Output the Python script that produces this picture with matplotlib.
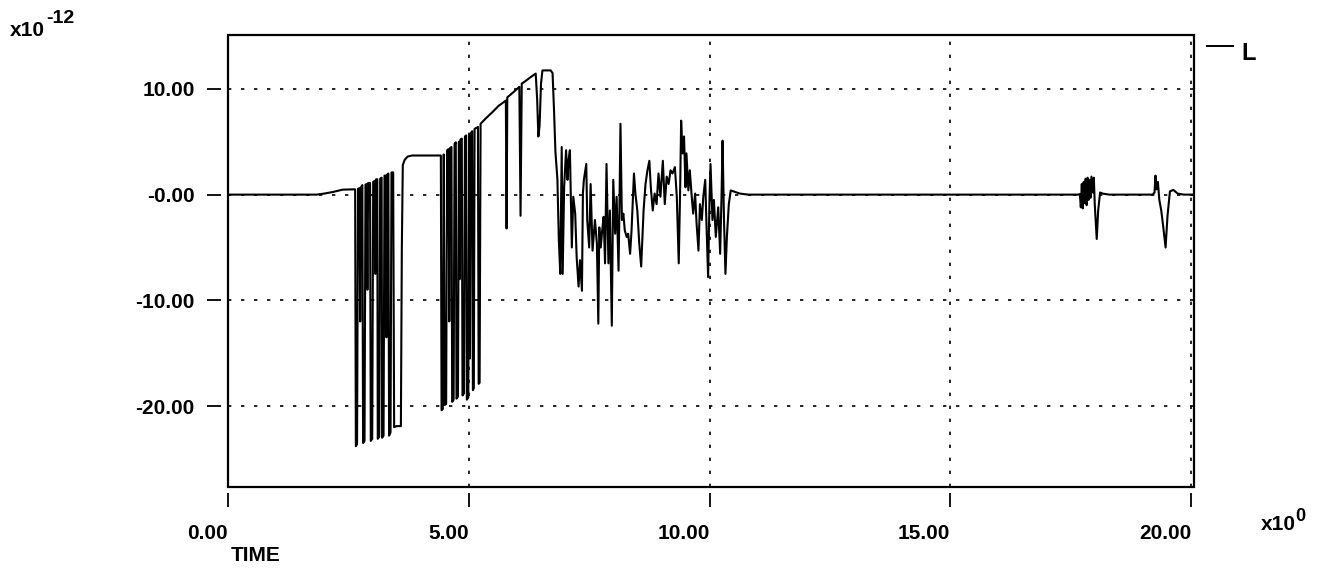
import numpy as np
import matplotlib
matplotlib.use("Agg")
import matplotlib.pyplot as plt
from matplotlib.patches import Rectangle
from matplotlib.lines import Line2D

plt.rcParams['font.family'] = ['Liberation Sans', 'DejaVu Sans']

t_start = [0.0, 1.84, 2.00, 2.18, 2.38, 2.64]
l_start = [0.0, 0.0, 0.1, 0.25, 0.47, 0.5]

# first burst of deep spikes (t ~ 2.6 .. 3.8)
t_burst1 = [2.655, 2.68, 2.70, 2.73,
            2.745, 2.76, 2.79,
            2.805, 2.835, 2.855, 2.88,
            2.895, 2.91, 2.95,
            2.965, 2.995, 3.015, 3.045,
            3.06, 3.075, 3.10,
            3.11, 3.14, 3.16, 3.19,
            3.20, 3.23, 3.25, 3.28,
            3.29, 3.305, 3.33,
            3.345, 3.375, 3.395, 3.43,
            3.45, 3.50, 3.59, 3.61, 3.63, 3.67, 3.73, 3.82, 4.42]
l_burst1 = [-23.8, -23.6, 0.55, 0.6,
            -12.0, 0.7, 0.9,
            -23.5, -23.3, 0.95, 1.0,
            -9.0, 1.1, 1.1,
            -23.3, -23.1, 1.2, 1.3,
            -7.5, 1.45, 1.45,
            -23.1, -22.9, 1.5, 1.6,
            -23.0, -22.8, 1.8, 1.8,
            -13.5, 1.9, 2.0,
            -22.8, -22.5, 2.1, 2.1,
            -22.0, -21.9, -21.9, -5.0, 2.8, 3.3, 3.6, 3.7, 3.7]

# second burst (t ~ 4.4 .. 5.25)
t_burst2 = [4.435, 4.46, 4.48,
            4.50, 4.53, 4.55, 4.58,
            4.595, 4.61, 4.64,
            4.655, 4.685, 4.705, 4.73,
            4.745, 4.775, 4.795,
            4.81, 4.825, 4.855,
            4.87, 4.90, 4.92, 4.945,
            4.96, 4.99, 5.01,
            5.025, 5.04, 5.07,
            5.085, 5.105, 5.12, 5.15, 5.19,
            5.205, 5.225, 5.245]
l_burst2 = [-20.4, -20.3, 3.8,
            -19.9, -19.8, 4.2, 4.3,
            -12.0, 4.4, 4.5,
            -19.6, -19.4, 4.8, 4.95,
            -19.3, -19.1, 5.0,
            -8.0, 5.2, 5.3,
            -19.0, -18.8, 5.5, 5.6,
            -19.4, -19.2, 5.7,
            -15.5, 5.8, 6.0,
            -18.5, -18.3, 6.2, 6.3, 6.4,
            -17.9, -17.8, 6.7]

# ramp up to the maximum
t_ramp = [5.35, 5.49, 5.62, 5.77, 5.785, 5.80, 5.93, 6.05, 6.075, 6.10,
          6.15, 6.28, 6.39, 6.42, 6.445, 6.47, 6.50, 6.53, 6.70, 6.74,
          6.77, 6.80, 6.84, 6.87, 6.90]
l_ramp = [7.2, 7.8, 8.4, 8.9, -3.2, 9.2, 9.7, 10.2, -2.0, 10.5,
          10.65, 11.1, 11.45, 9.0, 5.5, 6.5, 10.5, 11.75, 11.75, 11.5,
          8.0, 4.0, 1.5, -4.3, -7.5]

# noisy part (t ~ 6.9 .. 10.8)
t_noise = [6.93, 6.95, 6.98, 7.02, 7.05, 7.07, 7.10, 7.14, 7.17, 7.21,
           7.24, 7.28, 7.31, 7.35, 7.37, 7.39, 7.44, 7.46, 7.50, 7.53,
           7.57, 7.62, 7.66, 7.69, 7.71, 7.74, 7.77, 7.80, 7.83, 7.86,
           7.90, 7.93, 7.97, 8.00, 8.04, 8.07, 8.11, 8.13, 8.15, 8.18,
           8.21, 8.24, 8.28, 8.31, 8.35, 8.38, 8.43, 8.46, 8.50, 8.54,
           8.58, 8.63, 8.67, 8.71, 8.75, 8.78, 8.82, 8.86, 8.90, 8.94,
           8.98, 9.03, 9.07, 9.11, 9.15, 9.19, 9.23, 9.28, 9.32, 9.36,
           9.39, 9.41, 9.44, 9.47, 9.50, 9.52, 9.56, 9.59, 9.63, 9.66,
           9.70, 9.73, 9.77, 9.80, 9.84, 9.87, 9.91, 9.94, 9.97, 10.00,
           10.02, 10.06, 10.09, 10.13, 10.18, 10.22, 10.25, 10.27, 10.30, 10.33,
           10.36, 10.40, 10.44, 10.53, 10.63, 10.80]
l_noise = [4.5, -7.5, 0.7, 4.2, 1.4, 3.2, 4.2, -5.0, -0.2, -1.8,
           -5.9, -8.7, -6.2, -9.1, 0.1, 1.4, 2.9, -2.4, -5.0, 1.0,
           -5.3, -2.4, -4.6, -12.2, -3.1, -5.0, -3.4, -2.1, -6.5, 2.9,
           -6.5, -1.5, -12.4, 1.4, -3.7, -0.2, -7.2, -0.9, 6.7, -2.4,
           -1.8, -3.4, -4.0, -3.7, -5.6, -3.4, 2.0, 0.1, -1.5, -4.6,
           -6.8, -1.5, 1.0, 2.3, 3.2, 0.7, -1.5, 0.1, -0.9, 2.0,
           -0.2, 3.2, -0.9, 1.7, 1.0, 2.3, 2.0, 2.6, -0.2, -6.5,
           0.7, 7.0, 3.9, 5.5, 0.7, 3.9, 0.4, 2.3, -0.2, -1.8,
           0.1, -2.7, -5.3, -0.9, -2.4, -0.2, 1.4, -3.4, -7.8, -0.2,
           2.9, -2.4, -0.5, -4.0, -1.2, -5.6, 0.1, 5.1, -2.4, -7.5,
           -4.0, -0.9, 0.4, 0.25, 0.1, 0.0]

# two small disturbances near the end
t_late = [17.65, 17.69, 17.71, 17.73, 17.75, 17.77, 17.79, 17.81, 17.83, 17.85,
          17.87, 17.89, 17.91, 17.93, 17.96, 17.98, 18.00, 18.04, 18.07, 18.11,
          18.16, 18.30, 19.20, 19.24, 19.26, 19.28, 19.31, 19.34, 19.38, 19.42,
          19.47, 19.51, 19.56, 19.63, 19.72, 19.85, 20.06]
l_late = [0.0, 0.05, -1.2, 1.0, -1.3, 1.2, -0.8, 1.5, -1.0, 1.6,
          -0.5, 1.4, -0.3, 1.7, 0.2, 1.6, -1.0, -4.2, -1.5, 0.2,
          0.1, 0.0, 0.0, 0.2, 1.8, 0.5, 1.2, -0.5, -1.5, -3.0,
          -5.0, -2.0, 0.3, 0.45, 0.1, 0.0, 0.0]

x_ticks = [0, 5, 10, 15, 20]
x_labels = ["0.00", "5.00", "10.00", "15.00", "20.00"]
y_ticks = [10, 0, -10, -20]
y_labels = ["10.00", "-0.00", "-10.00", "-20.00"]

time = np.concatenate([t_start, t_burst1, t_burst2, t_ramp, t_noise, t_late])
L = np.concatenate([l_start, l_burst1, l_burst2, l_ramp, l_noise, l_late])

W, H = 1322, 571
fig = plt.figure(figsize=(W / 100, H / 100), dpi=100)
ax = fig.add_axes([228 / W, 1 - 487 / H, (1194 - 228) / W, (487 - 35) / H])

ax.plot(time, L, color='black', lw=1.5)
ax.set_xlim(0, 20.06)
ax.set_ylim(-27.66, 15.1)

# box frame drawn separately so the ticks can sit a little away from it
for s in ax.spines.values():
    s.set_color('none')
ax.spines['left'].set_position(('outward', 5))
ax.spines['bottom'].set_position(('outward', 4.5))
ax.add_patch(Rectangle((0, 0), 1, 1, transform=ax.transAxes, fill=False,
                       lw=1.6, edgecolor='black', zorder=5, clip_on=False))

ax.set_xticks(x_ticks)
ax.set_xticklabels(x_labels, fontsize=15, fontweight='bold', ha='right')
ax.set_yticks(y_ticks)
ax.set_yticklabels(y_labels, fontsize=15, fontweight='bold')
ax.tick_params(axis='x', direction='out', length=10, width=1.3, pad=12)
ax.tick_params(axis='y', direction='out', length=10, width=1.3, pad=9)

ax.grid(True, color='black', linestyle=(0, (2, 5.8)), linewidth=1.2)

fig.text(10 / W, 1 - 36 / H, "x10", fontsize=15, fontweight='bold')
fig.text(46 / W, 1 - 23 / H, "-12", fontsize=14, fontweight='bold')
fig.text(1261 / W, 1 - 530 / H, "x10", fontsize=15, fontweight='bold')
fig.text(1295 / W, 1 - 521 / H, "0", fontsize=13, fontweight='bold')
fig.text(231 / W, 1 - 561 / H, "TIME", fontsize=15, fontweight='bold')

fig.add_artist(Line2D([1207 / W, 1233 / W], [1 - 46 / H, 1 - 46 / H],
                      color='black', lw=1.4))
fig.text(1241 / W, 1 - 60 / H, "L", fontsize=17, fontweight='bold')

fig.savefig("out.png", dpi=100)
